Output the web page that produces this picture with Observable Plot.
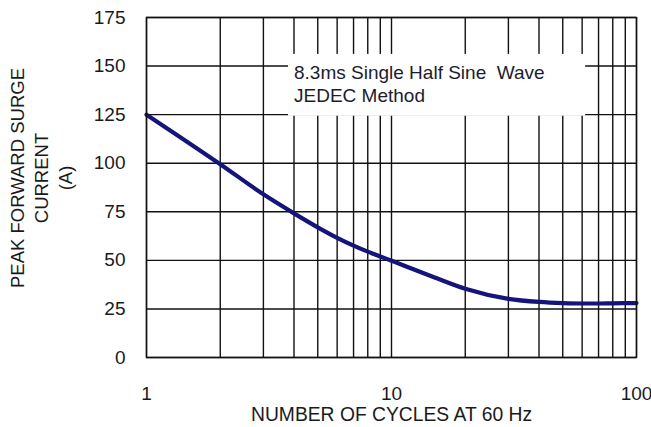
<!DOCTYPE html>
<html>
<head>
<meta charset="utf-8">
<script src="https://cdn.jsdelivr.net/npm/d3@7"></script>
<script src="https://cdn.jsdelivr.net/npm/@observablehq/plot@0.6"></script>
<style>
  html, body { margin: 0; padding: 0; background: #fff; }
  #chart svg { display: block; }
</style>
</head>
<body>
<div id="chart"></div>
<script>
// Curve data
const cycles  = [1, 2, 3, 4, 5, 6, 7, 8, 9, 10, 15, 20, 30, 40, 50, 60, 70, 80, 100];
const current = [125, 99.5, 84, 74.2, 67, 61.6, 57.6, 54.5, 52, 49.8, 41.2, 35.4, 30.2, 28.6, 28, 27.8, 27.8, 27.9, 28];

// Grid / ticks
const xGrid = [1, 2, 3, 4, 5, 6, 7, 8, 9, 10, 20, 30, 40, 50, 60, 70, 80, 90, 100];
const xTickLabels = [1, 10, 100];
const yTicks = [0, 25, 50, 75, 100, 125, 150, 175];

// Texts
const xLabel = "NUMBER OF CYCLES AT 60 Hz";
const yLabelLines = ["PEAK FORWARD SURGE", "CURRENT", "(A)"];
const noteLines = ["8.3ms Single Half Sine\u00a0\u00a0Wave", "JEDEC Method"];

// Note box (data coordinates)
const noteBox = [{x1: 3.8, x2: 62, y1: 124.2, y2: 156}];
const noteAnchor = [{x: 4, y: 152}];

const data = cycles.map((c, i) => ({c, v: current[i]}));

const font = "Liberation Sans, Arial, Helvetica, sans-serif";
const fs = 19;
const ink = "#1a1a1a";

const chart = Plot.plot({
  width: 651,
  height: 427,
  marginLeft: 146,
  marginRight: 15,
  marginTop: 17,
  marginBottom: 70,
  style: {fontFamily: font, fontSize: fs + "px", color: ink, background: "#fff"},
  x: {type: "log", domain: [1, 100]},
  y: {domain: [0, 175]},
  marks: [
    Plot.ruleX(xGrid, {stroke: "#111", strokeWidth: 1.4}),
    Plot.ruleY(yTicks, {stroke: "#111", strokeWidth: 1.4}),
    Plot.rect(noteBox, {x1: "x1", x2: "x2", y1: "y1", y2: "y2", fill: "#fff"}),
    Plot.text([noteLines.join("\n")], {
      x: () => noteAnchor[0].x, y: () => noteAnchor[0].y,
      textAnchor: "start", lineAnchor: "top", lineHeight: 1.22,
      fontSize: fs, fill: "#1c1c2e"
    }),
    Plot.line(data, {x: "c", y: "v", stroke: "#14147a", strokeWidth: 4.2, curve: "monotone-x", strokeLinejoin: "round", strokeLinecap: "round"}),
    Plot.frame({stroke: "#111", strokeWidth: 1.4}),
    Plot.axisX({ticks: xTickLabels, tickSize: 0, tickPadding: 29, tickFormat: d => String(d), fontSize: fs, label: null}),
    Plot.axisY({ticks: yTicks, tickSize: 0, tickPadding: 21, fontSize: fs, label: null}),
    Plot.text([xLabel], {frameAnchor: "bottom", dy: 63, lineAnchor: "bottom", fontSize: 19.3, fill: ink}),
    Plot.text([yLabelLines.join("\n")], {
      frameAnchor: "left", dx: -106, dy: -9.5, rotate: -90,
      textAnchor: "middle", lineAnchor: "middle", lineHeight: 1.3,
      fontSize: 18.5, fill: ink
    })
  ]
});

document.getElementById("chart").appendChild(chart);
</script>
</body>
</html>
